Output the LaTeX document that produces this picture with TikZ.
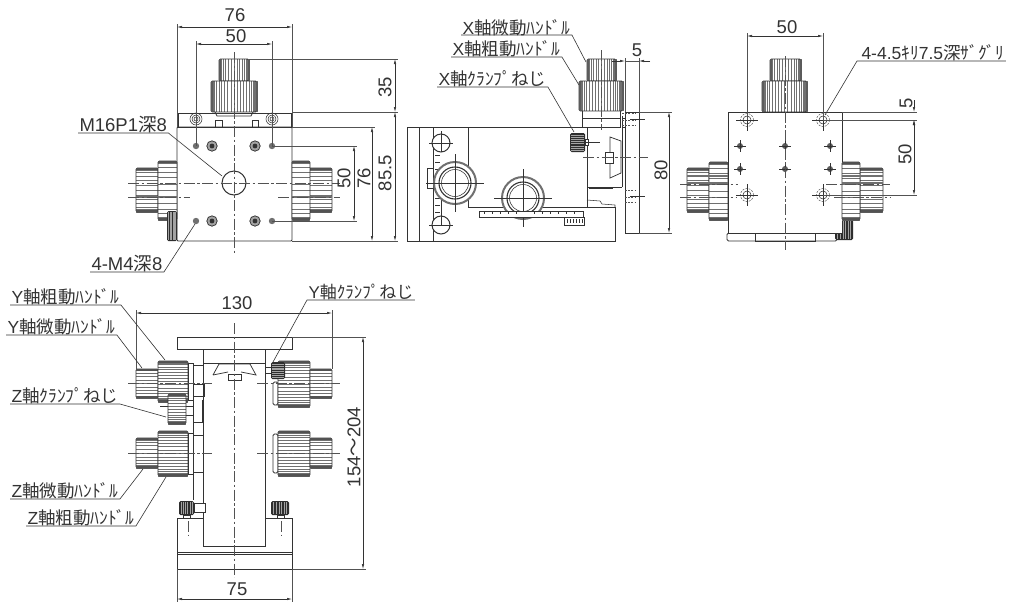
\documentclass[tikz,border=0pt]{standalone}
\usepackage{fontspec}
\setmainfont{Liberation Sans}
\newfontfamily\jpfont{Noto Sans CJK JP}
\usetikzlibrary{arrows.meta}
\newcommand{\J}[1]{{\jpfont #1}}
\definecolor{ink}{HTML}{333333}
\tikzset{
 part/.style={draw=ink,line width=0.75pt},
 thin part/.style={draw=ink,line width=0.55pt},
 ext/.style={draw=ink!85,line width=0.5pt},
 dimline/.style={draw=ink,line width=0.55pt,{Latex[length=5pt,width=2.4pt]}-{Latex[length=5pt,width=2.4pt]}},
 onearrow/.style={draw=ink,line width=0.55pt,-{Latex[length=5pt,width=2.4pt]}},
 centre/.style={draw=ink!85,line width=0.55pt,dash pattern=on 11pt off 2.5pt on 2.5pt off 2.5pt},
 hidden/.style={draw=ink!85,line width=0.5pt,dash pattern=on 2pt off 1.2pt},
 lead/.style={draw=ink,line width=0.6pt},
 dimtext/.style={font=\fontsize{18.5}{19}\selectfont,text=ink,inner sep=0pt},
 lbl/.style={font=\fontsize{17.5}{18}\selectfont,text=ink,inner sep=0pt,outer xsep=1.5pt,text height=13pt,text depth=1.5pt},
}
% knob whose ridges run horizontally
\newcommand{\knobh}[5][20]{%
 \fill[white] (#2,#3) rectangle (#4,#5);
 \pgfmathsetmacro{\ym}{(#3+#5)/2}\pgfmathsetmacro{\yh}{(#5-#3)/2}
 \foreach \i in {1,...,#1}{\draw[ink!70,line width={0.45+0.9*abs(cos(\i*180/#1))^3}] (#2,{\ym-\yh*cos(\i*180/#1)}) -- (#4,{\ym-\yh*cos(\i*180/#1)});}
 \draw[part,rounded corners=1.5pt,line width=0.9pt] (#2,#3) rectangle (#4,#5);
 \draw[ink!85,line width=1.4pt] (#2,#3+1) -- (#4,#3+1);
 \draw[ink!85,line width=2.2pt] (#2,#5-1.2) -- (#4,#5-1.2);
}
% knob whose ridges run vertically
\newcommand{\knobv}[5][18]{%
 \fill[white] (#2,#3) rectangle (#4,#5);
 \pgfmathsetmacro{\xm}{(#2+#4)/2}\pgfmathsetmacro{\xh}{(#4-#2)/2}
 \foreach \i in {1,...,#1}{\draw[ink!70,line width={0.45+0.9*abs(cos(\i*180/#1))^3}] ({\xm-\xh*cos(\i*180/#1)},#3) -- ({\xm-\xh*cos(\i*180/#1)},#5);}
 \draw[part,rounded corners=1.5pt,line width=0.9pt] (#2,#3) rectangle (#4,#5);
 \draw[ink!80,line width=1.4pt] (#2+0.8,#3) -- (#2+0.8,#5) (#4-0.8,#3) -- (#4-0.8,#5);
}
% dark clamp screw
\newcommand{\clampv}[4]{\fill[ink!90!black,rounded corners=1.5pt] (#1,#2) rectangle (#3,#4);
 \foreach \i in {1,...,6}{\draw[ink!45,line width=0.3pt] ({#1+(#3-#1)*\i/7},#2+1) -- ({#1+(#3-#1)*\i/7},#4-1);}}
\newcommand{\clamph}[4]{\fill[ink!90!black,rounded corners=1.5pt] (#1,#2) rectangle (#3,#4);
 \foreach \i in {1,...,8}{\draw[ink!45,line width=0.3pt] (#1+1,{#2+(#4-#2)*\i/9}) -- (#3-1,{#2+(#4-#2)*\i/9});}}
\begin{document}
\begin{tikzpicture}[x=1pt,y=-1pt]
\useasboundingbox (0,0) rectangle (1024,606);
\fill[white] (0,0) rectangle (1024,606);

%% ===== View 1 (top left) =====
\draw[part] (178,113) rectangle (291,127);
\draw[part,rounded corners=1pt] (177,127) rectangle (292,241);
\knobh[14]{136}{168}{158}{212}\knobh[14]{158}{161}{177}{220}
\knobh[14]{309}{168}{332}{212}\knobh[14]{292}{161}{310}{220}
\foreach \xa/\xb in {136/177,292/332}{\draw[ink!70,line width=1.4pt] (\xa,197) -- (\xb,197);}
\knobv[16]{219}{59}{249}{81}\knobv[22]{211}{81}{257}{112}
\draw[part] (215,112) -- (217,116) -- (251,116) -- (253,112);
\clampv{167}{211}{177}{241}
\draw[thin part] (215,120) rectangle (222,127) (252,120) rectangle (258,127);
\foreach \p in {(196,119),(272,119)}{\draw[thin part] \p circle (6) \p circle (4) \p circle (2);}
\foreach \p in {(196,146),(272,146),(196,221),(272,221)}{\fill[ink!70] \p circle (3.2);}
\foreach \p in {(212,146),(255,146),(212,221),(255,221)}{\draw[part,fill=ink!45] \p circle (5.2);\fill[ink] \p circle (2.4);}
\draw[part,fill=white,line width=1pt] (234,183) circle (12);
\draw[centre] (234,52) -- (234,253);
\draw[centre] (128,183) -- (340,183);
\draw[centre] (128,197) -- (190,197) (278,197) -- (340,197);

\draw[ext] (177,24) -- (177,127) (292,24) -- (292,127);
\draw[dimline] (177,27) -- (292,27);
\node[dimtext] (a76) at (235,15) {76};
\draw[ext] (196,41) -- (196,146) (272,41) -- (272,146);
\draw[dimline] (196,44) -- (272,44);
\node[dimtext] (a50) at (236,36) {50};
\draw[ext] (249,59) -- (398,59) (292,112) -- (398,112) (292,127) -- (375,127)
  (272,146) -- (357,146) (272,221) -- (357,221) (292,241) -- (398,241);
\draw[dimline] (395,59) -- (395,112);
\draw[dimline] (395,112) -- (395,241);
\draw[dimline] (372,127) -- (372,241);
\draw[dimline] (354,146) -- (354,221);
\node[dimtext,rotate=90] (a35) at (385,87) {35};
\node[dimtext,rotate=90] (a855) at (385,173) {85.5};
\node[dimtext,rotate=90] (a76v) at (364,178) {76};
\node[dimtext,rotate=90] (a50v) at (344,178) {50};

\node[lbl,font=\fontsize{18.5}{19}\selectfont,anchor=south west] (m16) at (78,133) {M16P1\J{深}8};
\coordinate (m16end) at (222,176);
\draw[lead] (m16.south west) -- (m16.south east) -- (m16end);
\node[lbl,font=\fontsize{18.5}{19}\selectfont,anchor=south west] (m4) at (90,272) {4-M4\J{深}8};
\coordinate (m4end) at (195,224);
\draw[lead] (m4.south west) -- (m4.south east) -- (m4end);

%% ===== View 2 (top middle) =====
\draw[part] (407,127) rectangle (419,241);
\draw[part] (419,127) -- (587,127) (419,241) -- (615,241) -- (615,207);
\draw[part] (433,127) -- (433,241);
\draw[part] (468,127) -- (468,207) -- (615,207);
\draw[part] (587,127) -- (587,207);
\draw[part] (587,187) -- (622,187);
\draw[part,line width=1pt] (589,188.5) -- (613,188.5);
\draw[part] (622,116) -- (622,187);
\draw[thin part] (587,200) -- (600,201) -- (602,204) -- (615,205) -- (615,207);
\draw[part] (625,112) rectangle (639,233);
\draw[part] (622,118) -- (625,118) (622,127) -- (625,127);
\foreach \yy in {113,120,125}{\draw[hidden] (622,\yy) -- (636,\yy);}
\draw[thin part] (630,119.5) -- (645,119.5);
\foreach \yy in {190,197,202}{\draw[hidden] (625,\yy) -- (636,\yy);}
\draw[thin part] (630,196) -- (645,196);
\draw[part] (610,137) -- (621,141) -- (621,173) -- (610,178) -- cycle;
\draw[part,fill=white] (605,152) rectangle (613,163);
\draw[centre] (583,157) -- (648,157);
\foreach \p in {(441,143),(441,225)}{\draw[part,fill=white,line width=1pt] \p circle (9);
 \draw[thin part] \p ++(-12,0) -- ++(24,0) \p ++(0,-12) -- ++(0,12);}
\draw[thin part] (441,143) -- (441,152) (441,200) -- (441,225);
\foreach \yy in {155,162,169,198,205,212}{\draw[thin part] (435,\yy) -- (440,\yy);}
\draw[thin part] (427,168) rectangle (433,188);
\foreach \p in {(455,183),(523,198)}{
 \draw[draw=ink!70,fill=white,line width=2pt] \p circle (21);
 \draw[part,line width=1.1pt] \p circle (16);
 \draw[thin part] \p circle (13.5);
 \draw[thin part] \p ++(-29,0) -- ++(58,0) \p ++(0,-29) -- ++(0,58);}
\draw[thin part,fill=white] (479,211) rectangle (583,217);
\foreach \xx in {484,492,500,508,516,534,542,550,558,566,574}{\draw[thin part] (\xx,211) -- (\xx,214);}
\draw[thin part,fill=white] (564,217) rectangle (584,225);
\foreach \xx in {567,570,573,576,579,582}{\draw[thin part] (\xx,219) -- (\xx,223);}
\draw[part] (582,118) rectangle (620,127);
\knobv[16]{587}{59}{616}{81}\knobv[22]{579}{81}{623}{111}
\draw[part] (582,111) -- (582,118) (620,111) -- (620,118);
\draw[centre] (601,50) -- (601,130);
\draw[part,fill=white] (585,139) rectangle (588,145);
\clamph{570}{133}{585}{152}
\draw[thin part] (585,142) -- (600,142);

\draw[ext] (625,58) -- (625,112) (639,58) -- (639,112);
\coordinate (d5a) at (625,61);\coordinate (d5b) at (639,61);
\draw[onearrow] (612,61) -- (d5a);
\draw[onearrow] (650,61) -- (d5b);
\draw[ext] (d5a) -- (d5b);
\node[dimtext] (b5) at (637,50) {5};
\draw[ext] (639,112) -- (672,112) (639,233) -- (672,233);
\draw[dimline] (669,112) -- (669,233);
\node[dimtext,rotate=90] (b80) at (661,170) {80};

\node[lbl,text depth=0pt,anchor=south west] (xfine) at (461,35) {X\J{軸微動ﾊﾝﾄﾞﾙ}};
\coordinate (xfineend) at (586,62);
\draw[lead] (xfine.south west) -- (xfine.south east) -- (xfineend);
\node[lbl,anchor=south west] (xcoarse) at (451,57) {X\J{軸粗動ﾊﾝﾄﾞﾙ}};
\coordinate (xcoarseend) at (579,85);
\draw[lead] (xcoarse.south west) -- (xcoarse.south east) -- (xcoarseend);
\node[lbl,anchor=south west] (xclamp) at (437,87) {X\J{軸ｸﾗﾝﾌﾟねじ}};
\coordinate (xclampend) at (574,132);
\draw[lead] (xclamp.south west) -- (xclamp.south east) -- (xclampend);

%% ===== View 3 (top right) =====
\draw[part,rounded corners=1.5pt] (727,233) rectangle (837,241);
\draw[thin part] (755,233) rectangle (815,241);
\clampv{835}{220}{853}{240}
\draw[part,fill=white] (728,112) rectangle (842,233);
\knobh[14]{687}{168}{709}{212}\knobh[14]{709}{162}{728}{220}
\knobh[14]{860}{168}{883}{212}\knobh[14]{842}{162}{860}{220}
\foreach \xa/\xb in {687/728,842/883}{\draw[ink!70,line width=1.4pt] (\xa,176) -- (\xb,176) (\xa,183) -- (\xb,183);}
\knobv[16]{770}{59}{801}{81}\knobv[22]{762}{81}{807}{112}
\foreach \p in {(747,120),(823,120),(747,195),(823,195)}{
 \draw[hidden] \p circle (6.5);
 \draw[thin part] \p circle (4);
 \draw[thin part] \p ++(-11,0) -- ++(22,0) \p ++(0,-11) -- ++(0,22);}
\foreach \xx in {740,785,830}\foreach \yy in {146,169}{
 \fill[ink!80] (\xx,\yy) circle (3);
 \draw[ink,line width=0.5pt] (\xx-6,\yy) -- (\xx+6,\yy) (\xx,\yy-6) -- (\xx,\yy+6);}
\draw[centre] (785,56) -- (785,250);
\draw[centre] (680,184) -- (738,184) (826,184) -- (890,184);
\draw[centre] (680,197) -- (736,197) (834,197) -- (890,197);

\draw[ext] (747,33) -- (747,120) (823,33) -- (823,120);
\draw[dimline] (747,36) -- (823,36);
\node[dimtext] (c50) at (787,27) {50};
\draw[ext] (842,112) -- (917,112) (823,120) -- (917,120) (823,195) -- (917,195);
\draw[onearrow] (914,100) -- (914,112);
\draw[onearrow] (914,131) -- (914,120);
\draw[dimline] (914,120) -- (914,195);
\node[dimtext,rotate=90] (c5) at (906,103) {5};
\node[dimtext,rotate=90] (c50v) at (905,154) {50};
\node[lbl,anchor=south west] (c45) at (860,61) {4-4.5\J{ｷﾘ}7.5\J{深ｻﾞｸﾞﾘ}};
\coordinate (c45start) at (857,61);
\coordinate (c45end) at (825,115);
\draw[lead] (c45.south east) -- (c45start) -- (c45end);

%% ===== View 4 (bottom left) =====
\draw[part] (177,518) rectangle (292,569);
\draw[part] (177,552) -- (292,552) (177,554) -- (292,554);
\draw[part] (177,337) rectangle (292,349);
\draw[part,fill=white] (203,349) rectangle (265,546);
\draw[part] (203,363) -- (265,363);
\draw[part] (213,375) -- (219,364) -- (250,364) -- (256,375) -- (241,372) (228,372) -- (213,375);
\draw[part,fill=white] (228,374) rectangle (241,380);
\draw[part] (193,363) -- (193,500);
\draw[thin part] (202,400) -- (202,422);
\foreach \yy in {365,422,435,472}{\draw[thin part] (193,\yy) -- (203,\yy);}
\draw[thin part] (193,384) rectangle (204,396);
\draw[thin part,fill=white] (194,503) rectangle (205,512);
\clampv{179}{501}{194}{515}
\clampv{271}{501}{289}{515}
\draw[thin part] (183,515) rectangle (190,518) (277,515) rectangle (284,518);
\draw[centre] (188,521) -- (188,536) (281,521) -- (281,536);
% handles
\foreach \yt/\yb/\ct/\cb in {369/398/361/402,438/468/431/476}{
 \draw[part,fill=white] (188,\ct+2) rectangle (193,\cb-2);
 \knobh[12]{136}{\yt}{158}{\yb}\knobh[20]{158}{\ct}{188}{\cb}
}
\draw[part,fill=white,rounded corners=1.5pt] (273,382) rectangle (278,405);
\knobh[20]{278}{361}{310}{407}\knobh[12]{310}{369}{332}{398}
\draw[part,fill=white,rounded corners=1.5pt] (273,434) rectangle (278,473);
\knobh[20]{278}{431}{310}{476}\knobh[12]{310}{438}{332}{468}
\draw[part,fill=white] (265,367) rectangle (271,373);
\clamph{271}{362}{285}{379}
\knobh[16]{168}{394}{186}{424}
\draw[thin part] (160,406) -- (168,406) (186,406) -- (193,406) (186,415) -- (193,415);

\draw[centre] (234,323) -- (234,577);
\draw[centre] (128,383) -- (212,383) (257,383) -- (340,383);
\draw[centre] (128,453) -- (212,453) (257,453) -- (340,453);

\draw[ext] (136,310) -- (136,369) (332,310) -- (332,369);
\draw[dimline] (136,313) -- (332,313);
\node[dimtext] (d130) at (237,303) {130};
\draw[ext] (292,337) -- (366,337) (292,569) -- (366,569);
\draw[dimline] (363,337) -- (363,569);
\node[dimtext,rotate=90] (d154) at (354,447) {154\J{～}204};
\draw[ext] (177,569) -- (177,602) (292,569) -- (292,602);
\draw[dimline] (177,599) -- (292,599);
\node[dimtext] (d75) at (237,589) {75};

\node[lbl,anchor=south west] (ycoarse) at (10,305) {Y\J{軸粗動ﾊﾝﾄﾞﾙ}};
\coordinate (ycoarseend) at (165,360);
\draw[lead] (ycoarse.south west) -- (ycoarse.south east) -- (ycoarseend);
\node[lbl,anchor=south west] (yfine) at (6,335) {Y\J{軸微動ﾊﾝﾄﾞﾙ}};
\coordinate (yfineend) at (142,368);
\draw[lead] (yfine.south west) -- (yfine.south east) -- (yfineend);
\node[lbl,anchor=south west] (zclamp) at (10,404) {Z\J{軸ｸﾗﾝﾌﾟねじ}};
\coordinate (zclampend) at (166,417);
\draw[lead] (zclamp.south west) -- (zclamp.south east) -- (zclampend);
\node[lbl,anchor=south west] (zfine) at (10,499) {Z\J{軸微動ﾊﾝﾄﾞﾙ}};
\coordinate (zfineend) at (143,469);
\draw[lead] (zfine.south west) -- (zfine.south east) -- (zfineend);
\node[lbl,anchor=south west] (zcoarse) at (26,526) {Z\J{軸粗動ﾊﾝﾄﾞﾙ}};
\coordinate (zcoarseend) at (166,477);
\draw[lead] (zcoarse.south west) -- (zcoarse.south east) -- (zcoarseend);
\node[lbl,font=\fontsize{17}{18}\selectfont,anchor=south west] (yclamp) at (307,300) {Y\J{軸ｸﾗﾝﾌﾟねじ}};
\coordinate (yclampend) at (273,362);
\draw[lead] (yclamp.south east) -- (yclamp.south west) -- (yclampend);
\end{tikzpicture}
\end{document}
